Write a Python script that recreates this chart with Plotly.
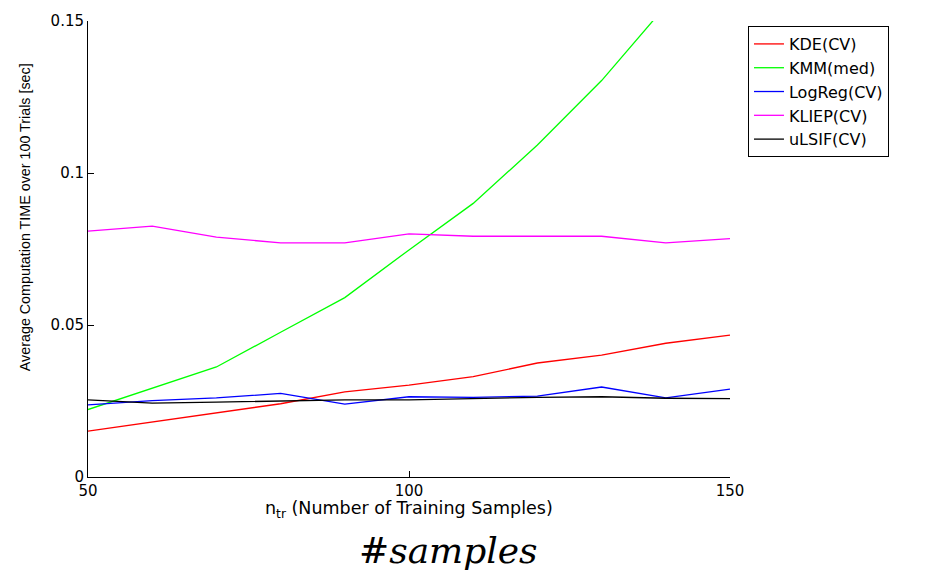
import plotly.graph_objects as go

# Training-sample counts
n_tr = [50, 60, 70, 80, 90, 100, 110, 120, 130, 140, 150]

# Average computation time [sec] for each method
kde_cv = [0.0151, 0.0181, 0.0211, 0.0241, 0.0280, 0.0302, 0.0330, 0.0375, 0.0401, 0.0440, 0.0467]
kmm_med = [0.0222, 0.0293, 0.0362, 0.0476, 0.0590, 0.0747, 0.0900, 0.1092, 0.1304, 0.1550, 0.1800]
logreg_cv = [0.0237, 0.0251, 0.0260, 0.0275, 0.0240, 0.0264, 0.0262, 0.0266, 0.0296, 0.0260, 0.0289]
kliep_cv = [0.0809, 0.0825, 0.0789, 0.0770, 0.0770, 0.0800, 0.0792, 0.0792, 0.0792, 0.0770, 0.0784]
ulsif_cv = [0.0254, 0.0243, 0.0246, 0.0250, 0.0254, 0.0254, 0.0259, 0.0262, 0.0264, 0.0259, 0.0258]

series = [
    ("KDE(CV)", kde_cv, "#ff0000"),
    ("KMM(med)", kmm_med, "#00ff00"),
    ("LogReg(CV)", logreg_cv, "#0000ff"),
    ("KLIEP(CV)", kliep_cv, "#ff00ff"),
    ("uLSIF(CV)", ulsif_cv, "#000000"),
]

x_ticks = [50, 100, 150]
y_ticks = [0, 0.05, 0.1, 0.15]
y_tick_text = ["0", "0.05", "0.1", "0.15"]

fig = go.Figure()
for name, vals, color in series:
    fig.add_trace(go.Scatter(
        x=n_tr, y=vals, name=name, mode="lines",
        line=dict(color=color, width=1.3),
    ))

sans = "Liberation Sans, Arial, sans-serif"
wide = "DejaVu Sans, sans-serif"
axis_font = dict(family=wide, size=15, color="black")

fig.update_layout(
    width=949, height=574,
    margin=dict(l=88, r=219, t=17, b=97),
    paper_bgcolor="white", plot_bgcolor="white",
    font=dict(family=sans, color="black"),
    xaxis=dict(
        range=[50, 150], tickvals=x_ticks, ticktext=[str(v) for v in x_ticks],
        ticks="inside", ticklen=6, tickcolor="black",
        showline=True, linecolor="black", linewidth=1,
        showgrid=False, zeroline=False, tickfont=axis_font,
    ),
    yaxis=dict(
        range=[0, 0.15], tickvals=y_ticks, ticktext=y_tick_text,
        ticks="inside", ticklen=6, tickcolor="black",
        showline=True, linecolor="black", linewidth=1,
        showgrid=False, zeroline=False, tickfont=axis_font,
    ),
    legend=dict(
        x=1.028, y=0.989, xanchor="left", yanchor="top",
        bordercolor="black", borderwidth=1, bgcolor="white",
        font=dict(family=wide, size=16), tracegroupgap=0,
    ),
    showlegend=True,
)

# Horizontal x-axis caption
fig.add_annotation(
    text="n<sub>tr</sub> (Number of Training Samples)",
    xref="paper", yref="paper", x=0.5, y=-0.071,
    xanchor="center", yanchor="middle", showarrow=False,
    font=dict(family=wide, size=17.5, color="black"),
)

# Vertical y-axis caption
fig.add_annotation(
    text="Average Computation TIME over 100 Trials [sec]",
    xref="paper", yref="paper", x=-0.098, y=0.57,
    xanchor="center", yanchor="middle", textangle=-90, showarrow=False,
    font=dict(family=sans, size=14.3, color="black"),
)

fig.add_annotation(
    text="#<i>samples</i>", xref="paper", yref="paper",
    x=0.561, y=-0.112, xanchor="center", yanchor="top",
    showarrow=False,
    font=dict(family="DejaVu Serif, Liberation Serif, serif", size=36, color="black"),
)

fig.write_html("out.html")
